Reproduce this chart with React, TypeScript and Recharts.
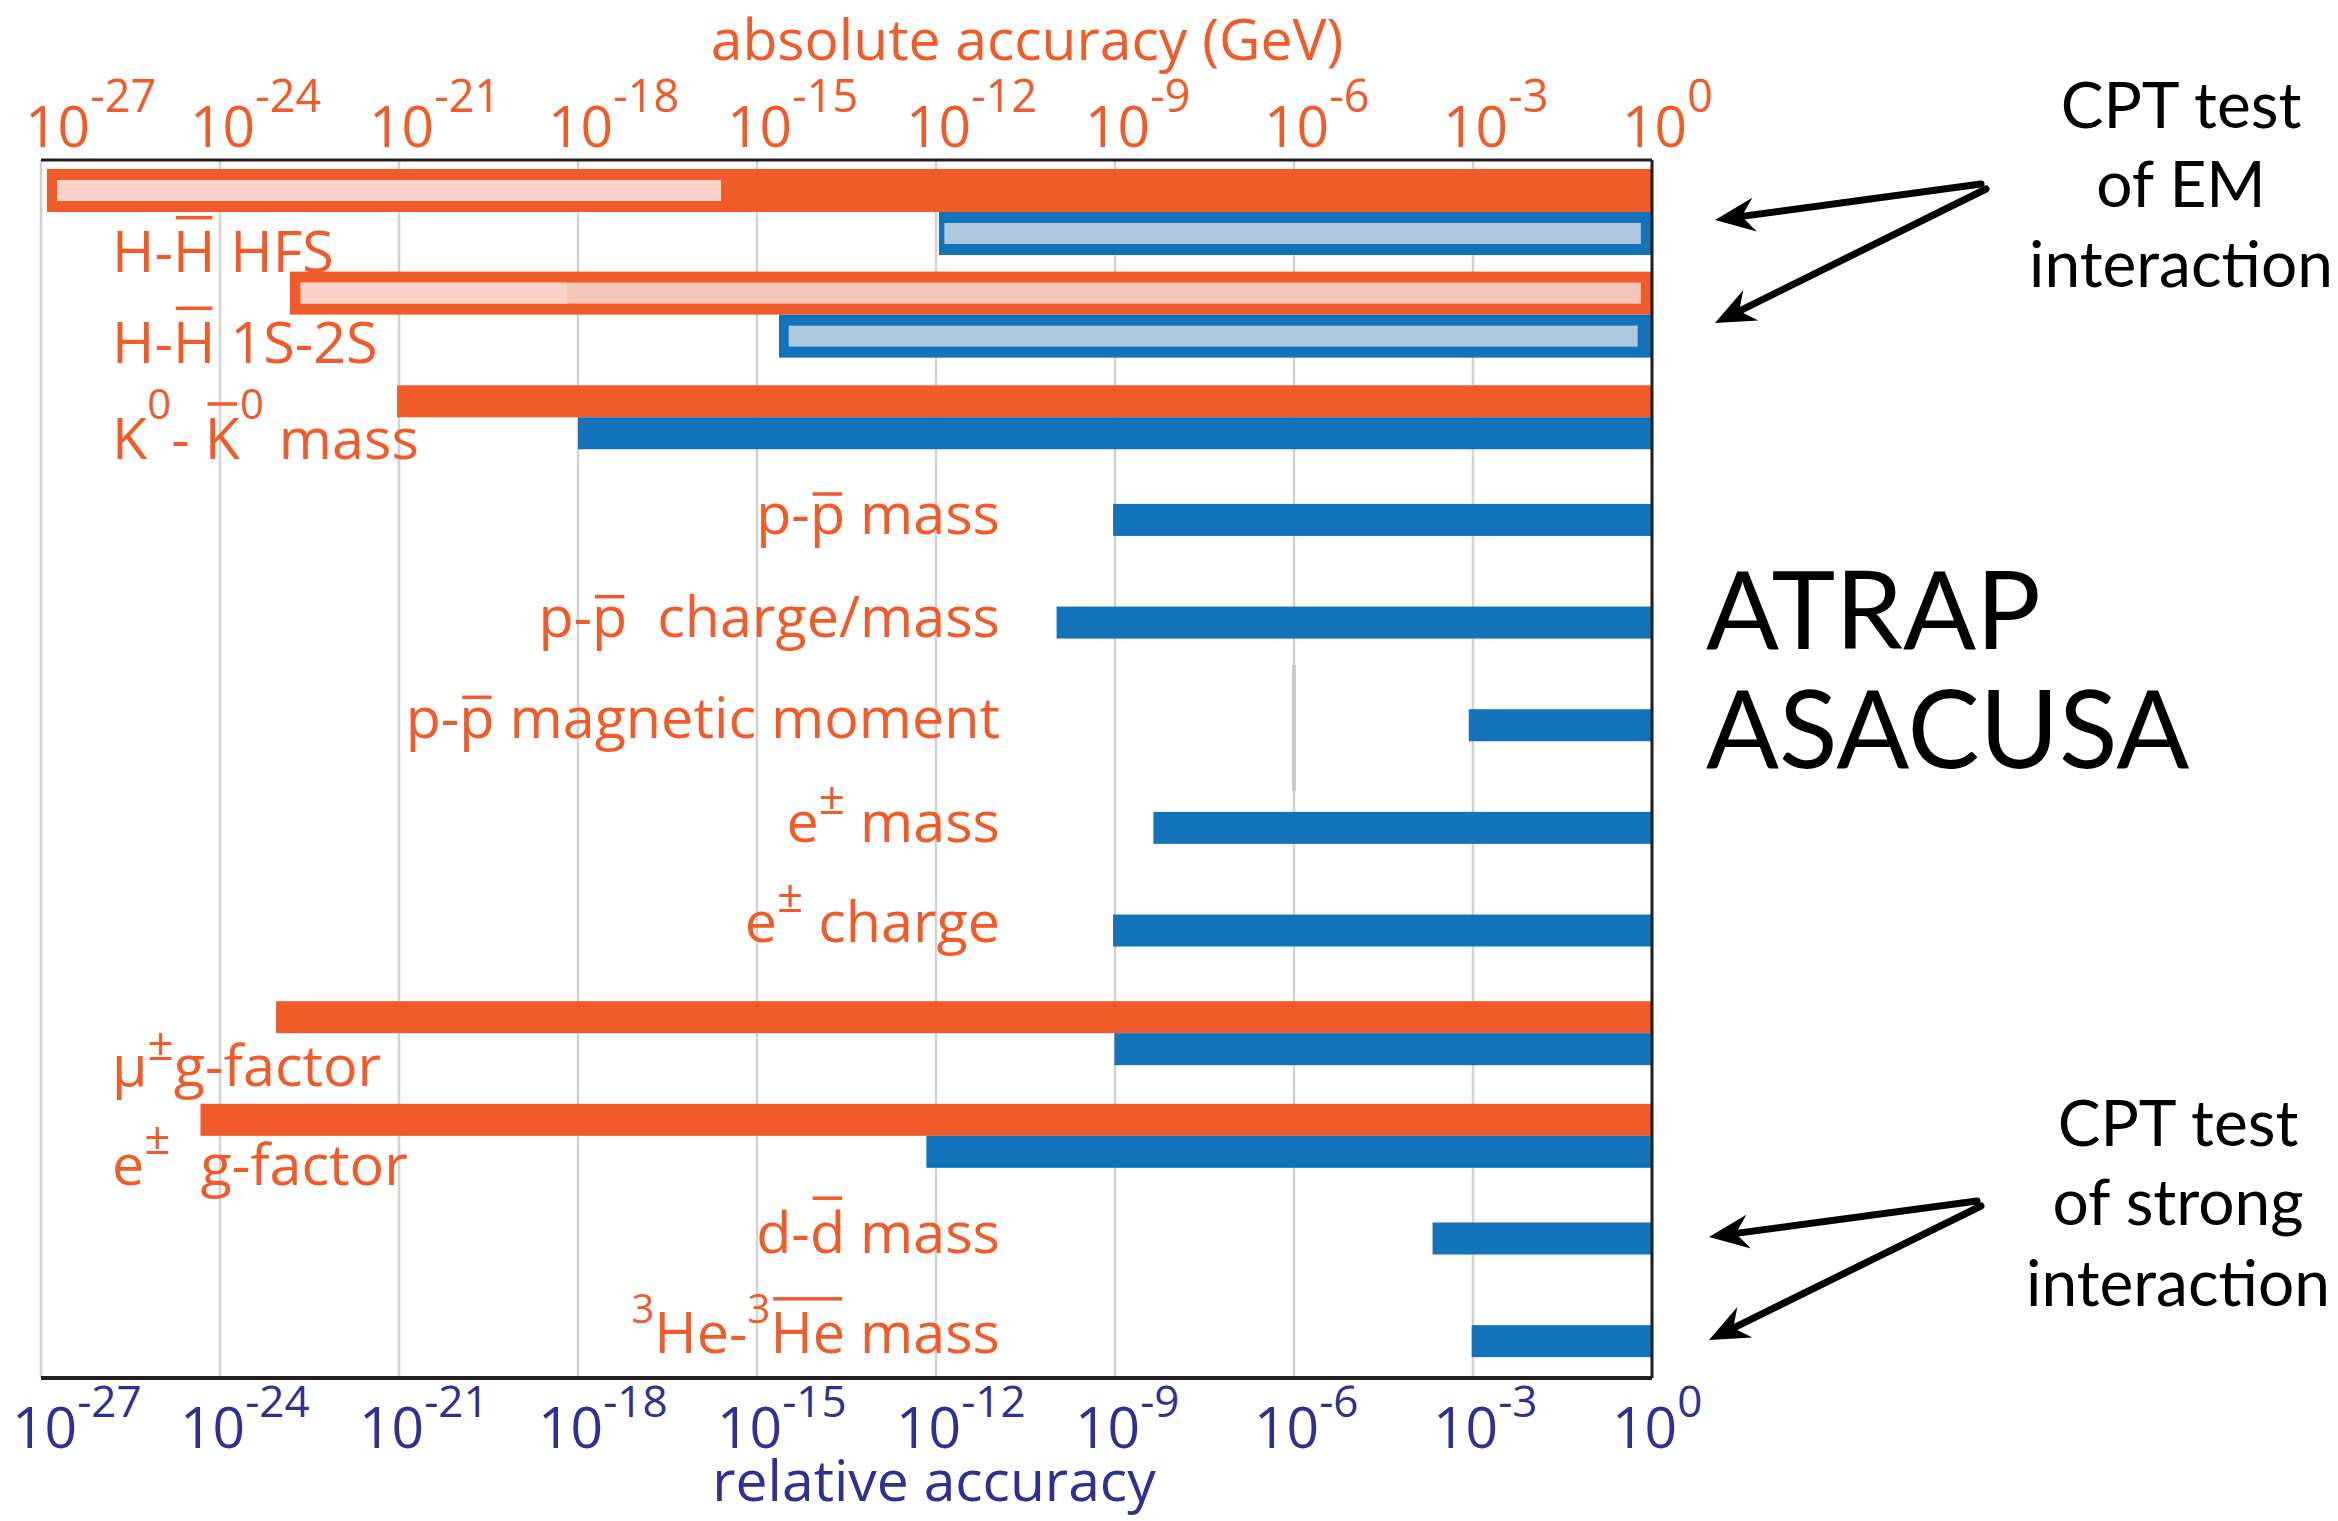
import React, { useLayoutEffect, useRef, useState } from 'react';
import { ComposedChart, Bar, XAxis, YAxis, CartesianGrid, ReferenceLine, Cell } from 'recharts';

// ---------- data ----------
const ROW_IDS = [0, 1, 2, 3, 4, 5, 6, 7, 8, 9, 10, 11];

type Part = { t: string; sup?: boolean; over?: 'cap' | 'x' };
const LABEL_PARTS: Part[][] = [
  [{ t: 'H-' }, { t: 'H', over: 'cap' }, { t: ' HFS' }],
  [{ t: 'H-' }, { t: 'H', over: 'cap' }, { t: ' 1S-2S' }],
  [{ t: 'K' }, { t: '0', sup: true }, { t: '- ' }, { t: 'K', over: 'cap' }, { t: '0', sup: true }, { t: ' mass' }],
  [{ t: 'p-' }, { t: 'p', over: 'x' }, { t: ' mass' }],
  [{ t: 'p-' }, { t: 'p', over: 'x' }, { t: '\u00A0 charge/mass' }],
  [{ t: 'p-' }, { t: 'p', over: 'x' }, { t: ' magnetic moment' }],
  [{ t: 'e' }, { t: '±', sup: true }, { t: ' mass' }],
  [{ t: 'e' }, { t: '±', sup: true }, { t: ' charge' }],
  [{ t: 'μ' }, { t: '±', sup: true }, { t: 'g-factor' }],
  [{ t: 'e' }, { t: '±', sup: true }, { t: '\u00A0 g-factor' }],
  [{ t: 'd-' }, { t: 'd', over: 'cap' }, { t: ' mass' }],
  [{ t: '3', sup: true }, { t: 'He-' }, { t: '3', sup: true }, { t: 'He', over: 'cap' }, { t: ' mass' }],
];

type R = [number, number] | null;
// absolute accuracy (orange), outlined bars: [from, to]
const ABS_OUTLINED: R[] = [[1.26e-27, 1], [1.48e-23, 1], null, null, null, null, null, null, null, null, null, null];
const ABS_INNER: R[] = [[1.86e-27, 2.5e-16], [2.24e-23, 0.65], null, null, null, null, null, null, null, null, null, null];
const ABS_INNER_2: R[] = [null, [2.24e-23, 6.6e-19], null, null, null, null, null, null, null, null, null, null];
// relative accuracy (blue), outlined bars
const REL_OUTLINED: R[] = [[1.12e-12, 1], [2.34e-15, 1], null, null, null, null, null, null, null, null, null, null];
const REL_INNER: R[] = [[1.38e-12, 0.65], [3.4e-15, 0.575], null, null, null, null, null, null, null, null, null, null];
// solid paired bars
const ABS_SOLID: R[] = [null, null, [9.3e-22, 1], null, null, null, null, null, [8.7e-24, 1], [4.7e-25, 1], null, null];
const REL_PAIRED: R[] = [null, null, [1.0e-18, 1], null, null, null, null, null, [9.8e-10, 1], [6.9e-13, 1], null, null];
// single blue bars
const REL_SINGLE: R[] = [null, null, null, [9.3e-10, 1], [1.05e-10, 1], [8.5e-4, 1], [4.4e-9, 1], [9.3e-10, 1], null, null, [2.1e-4, 1], [9.5e-4, 1]];

const TICK_VALUES = [1e-27, 1e-24, 1e-21, 1e-18, 1e-15, 1e-12, 1e-9, 1e-6, 1e-3, 1];
const TICK_LABELS = ['-27', '-24', '-21', '-18', '-15', '-12', '-9', '-6', '-3', '0'];

const DATA = ROW_IDS.map((row, i) => ({
  row,
  absOutlined: ABS_OUTLINED[i],
  absInner: ABS_INNER[i],
  absInner2: ABS_INNER_2[i],
  relOutlined: REL_OUTLINED[i],
  relInner: REL_INNER[i],
  absSolid: ABS_SOLID[i],
  relPaired: REL_PAIRED[i],
  relSingle: REL_SINGLE[i],
}));

// ---------- style ----------
const W = 2338;
const H = 1521;
const MARGIN = { top: 0, right: 685, bottom: 0, left: 40 };
const Y_AXIS_W = 1;
const TOP_AXIS_H = 160;
const BOTTOM_AXIS_H = 143;
const PLOT_LEFT = MARGIN.left + Y_AXIS_W;
const PLOT_TOP = TOP_AXIS_H;
const PLOT_BOTTOM = H - BOTTOM_AXIS_H;
const Y_DOMAIN: [number, number] = [-0.5095, 11.356];

const ORANGE = '#F15A29';
const BLUE = '#1273BA';
const PINK_LIGHT = '#F9D3C9';
const PINK_DARK = '#F4C6BB';
const BLUE_LIGHT = '#AEC8DF';
const NAVY = '#2E3192';
const FRAME = '#231F20';
const GRID = '#D2D2D2';
const TEXT_FONT = '"Open Sans", "Noto Sans", sans-serif';
const NOTE_FONT = 'Lato, "Open Sans", sans-serif';
const ABS_INNER_FILL = [PINK_LIGHT, PINK_DARK];

const LABEL_STYLE = [
  { anchor: 'start', dy: 60 },
  { anchor: 'start', dy: 48 },
  { anchor: 'start', dy: 41, supSize: 42, supRise: 40 },
  { anchor: 'end', dy: 14 },
  { anchor: 'end', dy: 14 },
  { anchor: 'end', dy: 12 },
  { anchor: 'end', dy: 13.5, supSize: 46, supRise: 28 },
  { anchor: 'end', dy: 11.5, supSize: 46, supRise: 30 },
  { anchor: 'start', dy: 52, supSize: 46, supRise: 26 },
  { anchor: 'start', dy: 49, supSize: 46, supRise: 31 },
  { anchor: 'end', dy: 14 },
  { anchor: 'end', dy: 12 },
] as { anchor: 'start' | 'end'; dy: number; supSize?: number; supRise?: number }[];

const LABEL_SIZE = 57.5;

function RichText(props: {
  x: number; y: number; anchor: 'start' | 'end'; parts: Part[]; size: number;
  supSize: number; supRise: number; fill: string;
}) {
  const { x, y, anchor, parts, size, supSize, supRise, fill } = props;
  const ref = useRef<SVGTextElement>(null);
  const [bars, setBars] = useState<{ x1: number; x2: number; y: number }[]>([]);
  useLayoutEffect(() => {
    const el = ref.current;
    if (!el) return;
    const res: { x1: number; x2: number; y: number }[] = [];
    let idx = 0;
    for (const p of parts) {
      const n = p.t.length;
      if (p.over) {
        try {
          const a = el.getExtentOfChar(idx);
          const b = el.getExtentOfChar(idx + n - 1);
          res.push({
            x1: a.x + size * 0.05,
            x2: b.x + b.width - size * 0.05,
            y: y - (p.over === 'cap' ? 0.95 : 0.7) * size,
          });
        } catch (e) {
          /* ignore */
        }
      }
      idx += n;
    }
    setBars(res);
  }, [x, y]);
  let raised = false;
  return (
    <g>
      <text ref={ref} x={x} y={y} textAnchor={anchor} fontSize={size} fill={fill} fontFamily={TEXT_FONT} style={{ whiteSpace: 'pre' }}>
        {parts.map((p, k) => {
          let dy = 0;
          if (p.sup && !raised) { dy = -supRise; raised = true; }
          else if (!p.sup && raised) { dy = supRise; raised = false; }
          return (
            <tspan key={k} dy={dy || undefined} fontSize={p.sup ? supSize : undefined}>{p.t}</tspan>
          );
        })}
      </text>
      {bars.map((b, k) => (
        <rect key={k} x={b.x1} y={b.y - 1.75} width={Math.max(0, b.x2 - b.x1)} height={3.5} fill={fill} />
      ))}
    </g>
  );
}

function RowLabel(props: any) {
  const i = props?.payload?.value;
  const parts = LABEL_PARTS[i];
  const st = LABEL_STYLE[i];
  if (!parts || !st || !Number.isFinite(props.y)) return <g />;
  const x = st.anchor === 'start' ? PLOT_LEFT + 71 : PLOT_LEFT + 959;
  return (
    <RichText x={x} y={props.y + st.dy} anchor={st.anchor} parts={parts} size={LABEL_SIZE}
      supSize={st.supSize ?? 40} supRise={st.supRise ?? 30} fill={ORANGE} />
  );
}

function TopTick(props: any) {
  const v = props?.payload?.value;
  const i = TICK_VALUES.indexOf(v);
  if (i < 0) return <g />;
  const x = props.x + (i === 0 ? -16 : -30);
  return (
    <text x={x} y={PLOT_TOP - 13} fill={ORANGE} fontSize={57} fontFamily={TEXT_FONT}>
      10<tspan dy={-35} fontSize={45}>{TICK_LABELS[i]}</tspan>
    </text>
  );
}

function BottomTick(props: any) {
  const v = props?.payload?.value;
  const i = TICK_VALUES.indexOf(v);
  if (i < 0) return <g />;
  const x = props.x + (i === 0 ? -29 : -40);
  return (
    <text x={x} y={PLOT_BOTTOM + 70} fill={NAVY} fontSize={57} fontFamily={TEXT_FONT}>
      10<tspan dy={-31} fontSize={44}>{TICK_LABELS[i]}</tspan>
    </text>
  );
}

const rectShape = (p: any) => {
  if (!p || !Number.isFinite(p.x) || !Number.isFinite(p.y) || !Number.isFinite(p.width) || !Number.isFinite(p.height) || p.width <= 0) {
    return <g />;
  }
  return <rect x={p.x} y={p.y} width={p.width} height={p.height} fill={p.fill} />;
};
const emptyShape = () => <g />;

function Arrow({ x1, y1, x2, y2 }: { x1: number; y1: number; x2: number; y2: number }) {
  const dx = x2 - x1;
  const dy = y2 - y1;
  const L = Math.hypot(dx, dy);
  const ux = dx / L;
  const uy = dy / L;
  const px = -uy;
  const py = ux;
  const hl = 40;
  const hw = 17;
  const notch = 27;
  const bx = x2 - ux * hl;
  const by = y2 - uy * hl;
  const pts = [
    [x2, y2],
    [bx + px * hw, by + py * hw],
    [x2 - ux * notch, y2 - uy * notch],
    [bx - px * hw, by - py * hw],
  ].map((q) => q.join(',')).join(' ');
  return (
    <g>
      <line x1={x1} y1={y1} x2={x2 - ux * notch} y2={y2 - uy * notch} stroke="#000" strokeWidth={7} strokeLinecap="round" />
      <polygon points={pts} fill="#000" />
    </g>
  );
}

const yAxisCommon = {
  type: 'number' as const,
  dataKey: 'row',
  domain: Y_DOMAIN,
  allowDataOverflow: true,
  ticks: ROW_IDS,
};

export default function App() {
  return (
    <div style={{ position: 'absolute', left: 0, top: 0, width: W, height: H, background: '#fff', fontFamily: TEXT_FONT }}>
      <ComposedChart width={W} height={H} data={DATA} layout="vertical" margin={MARGIN} barGap={0}>
        <CartesianGrid xAxisId="b" yAxisId="lab" horizontal={false} stroke={GRID} strokeWidth={2.5} />
        <XAxis xAxisId="b" type="number" scale="log" domain={[1e-27, 1]} allowDataOverflow ticks={TICK_VALUES}
          interval={0} orientation="bottom" height={BOTTOM_AXIS_H} tick={<BottomTick />} tickLine={false}
          axisLine={{ stroke: FRAME, strokeWidth: 4 }} />
        <XAxis xAxisId="t" type="number" scale="log" domain={[1e-27, 1]} allowDataOverflow ticks={TICK_VALUES}
          interval={0} orientation="top" height={TOP_AXIS_H} tick={<TopTick />} tickLine={false}
          axisLine={{ stroke: FRAME, strokeWidth: 3 }} />
        <YAxis yAxisId="lab" {...yAxisCommon} width={Y_AXIS_W} interval={0} tick={<RowLabel />} tickLine={false}
          axisLine={{ stroke: FRAME, strokeWidth: 3 }} />
        <YAxis yAxisId="rt" {...yAxisCommon} orientation="right" width={Y_AXIS_W} tick={false} tickLine={false}
          axisLine={{ stroke: FRAME, strokeWidth: 3 }} />
        <YAxis yAxisId="outer" {...yAxisCommon} hide />
        <YAxis yAxisId="inner" {...yAxisCommon} hide />
        <YAxis yAxisId="inner2" {...yAxisCommon} hide />
        <YAxis yAxisId="pair" {...yAxisCommon} hide />
        <YAxis yAxisId="single" {...yAxisCommon} hide />

        <ReferenceLine xAxisId="b" yAxisId="lab" segment={[{ x: 1e-6, y: 4.41 }, { x: 1e-6, y: 5.64 }]}
          stroke="#C4C4C4" strokeWidth={3.5} />

        <Bar xAxisId="b" yAxisId="outer" dataKey="absOutlined" barSize={43} fill={ORANGE} shape={rectShape} isAnimationActive={false} />
        <Bar xAxisId="b" yAxisId="outer" dataKey="relOutlined" barSize={43} fill={BLUE} shape={rectShape} isAnimationActive={false} />

        <Bar xAxisId="b" yAxisId="inner" dataKey="absInner" barSize={21} fill={PINK_LIGHT} shape={rectShape} isAnimationActive={false}>
          {DATA.map((d, i) => (
            <Cell key={i} fill={ABS_INNER_FILL[i] ?? PINK_LIGHT} />
          ))}
        </Bar>
        <Bar xAxisId="b" yAxisId="inner" dataKey="gapA" barSize={22} shape={emptyShape} isAnimationActive={false} />
        <Bar xAxisId="b" yAxisId="inner" dataKey="relInner" barSize={21} fill={BLUE_LIGHT} shape={rectShape} isAnimationActive={false} />

        <Bar xAxisId="b" yAxisId="inner2" dataKey="absInner2" barSize={21} fill={PINK_LIGHT} shape={rectShape} isAnimationActive={false} />
        <Bar xAxisId="b" yAxisId="inner2" dataKey="gapB" barSize={22} shape={emptyShape} isAnimationActive={false} />
        <Bar xAxisId="b" yAxisId="inner2" dataKey="gapC" barSize={21} shape={emptyShape} isAnimationActive={false} />

        <Bar xAxisId="b" yAxisId="pair" dataKey="absSolid" barSize={32} fill={ORANGE} shape={rectShape} isAnimationActive={false} />
        <Bar xAxisId="b" yAxisId="pair" dataKey="relPaired" barSize={32} fill={BLUE} shape={rectShape} isAnimationActive={false} />

        <Bar xAxisId="b" yAxisId="single" dataKey="relSingle" barSize={32} fill={BLUE} shape={rectShape} isAnimationActive={false} />
      </ComposedChart>

      <svg width={W} height={H} style={{ position: 'absolute', left: 0, top: 0, pointerEvents: 'none' }}>
        <text x={1027} y={60} textAnchor="middle" fontSize={57} fill={ORANGE} fontFamily={TEXT_FONT}>absolute accuracy (GeV)</text>
        <text x={934} y={1501} textAnchor="middle" fontSize={57} fill={NAVY} fontFamily={TEXT_FONT}>relative accuracy</text>

        <text x={1706} y={649} fontSize={108} fill="#000" fontFamily={NOTE_FONT}>ATRAP</text>
        <text x={1706} y={768} fontSize={108} fill="#000" fontFamily={NOTE_FONT}>ASACUSA</text>

        <g fontFamily={NOTE_FONT} fontSize={64} fill="#000" textAnchor="middle">
          <text x={2181} y={128}>CPT test</text>
          <text x={2181} y={207}>of EM</text>
          <text x={2181} y={287}>interaction</text>
          <text x={2178} y={1146}>CPT test</text>
          <text x={2178} y={1225}>of strong</text>
          <text x={2178} y={1306}>interaction</text>
        </g>

        <Arrow x1={1981} y1={184} x2={1715} y2={220} />
        <Arrow x1={1986} y1={189} x2={1715} y2={323} />
        <Arrow x1={1977} y1={1201} x2={1709} y2={1237} />
        <Arrow x1={1981} y1={1206} x2={1709} y2={1340} />
      </svg>
    </div>
  );
}
